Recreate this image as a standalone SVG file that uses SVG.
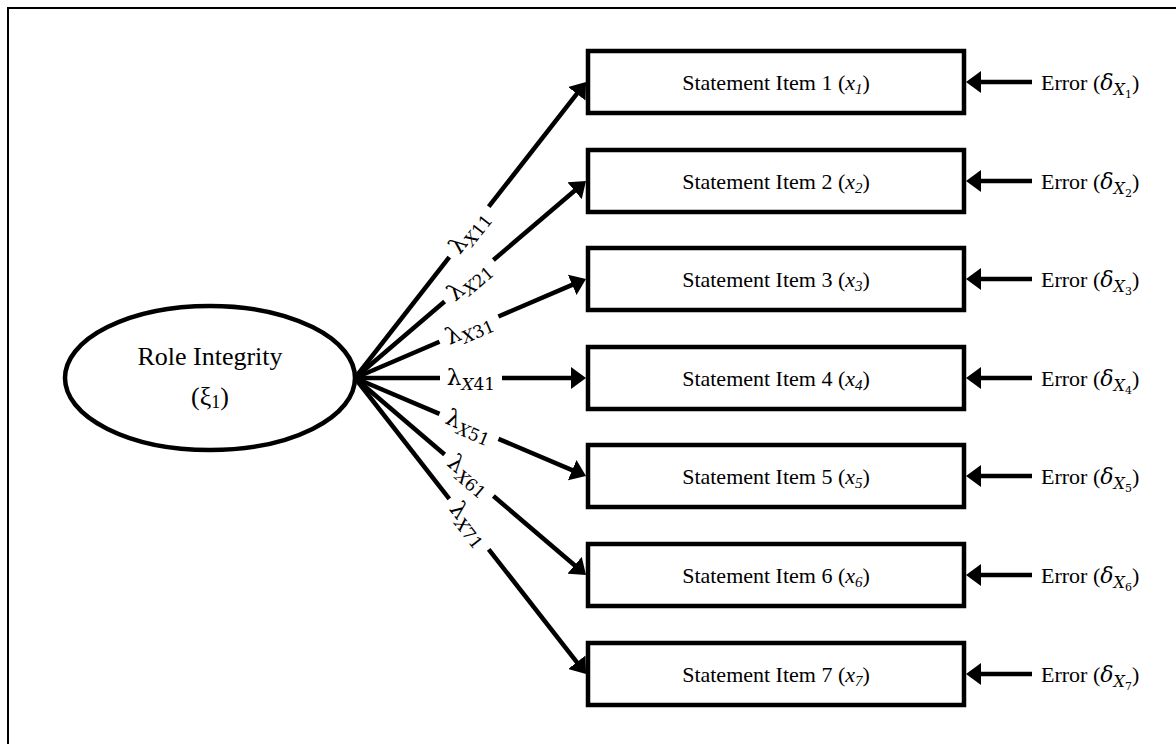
<svg xmlns="http://www.w3.org/2000/svg" width="1176" height="744" viewBox="0 0 1176 744">
<defs>
<style>
.frame{fill:none;stroke:#000;stroke-width:2}
.box{fill:#fff;stroke:#000;stroke-width:4.5}
.ell{fill:#fff;stroke:#000;stroke-width:4.5}
.ln{fill:none;stroke:#000;stroke-width:4.5}
.arr{fill:none;stroke:#000;stroke-width:4.5;marker-end:url(#ah)}
.t{font-family:"Liberation Serif","Times New Roman",serif;font-size:22px;fill:#000}
.lt{font-family:"Liberation Serif","Times New Roman",serif;font-size:26px;fill:#000}
.lam{font-family:"DejaVu Serif","Liberation Serif",serif;font-size:23px;fill:#000}
.sub{font-size:17px}
.it{font-style:italic}
.m{font-family:"DejaVu Serif","Liberation Serif",serif}
</style>
<marker id="ah" markerUnits="userSpaceOnUse" viewBox="0 0 15 22" markerWidth="15" markerHeight="22" refX="5" refY="11" orient="auto">
<path d="M0,0 L15,11 L0,22 z" fill="#000"/>
</marker>
</defs>
<rect width="1176" height="744" fill="#fff"/>
<rect class="frame" x="8" y="8" width="1200" height="800"/>

<g id="connectors">
<line class="ln" x1="355" y1="378" x2="449.3" y2="257.1"/>
<line class="arr" x1="488.7" y1="206.7" x2="579.9" y2="89.9"/>
<line class="ln" x1="355" y1="378" x2="444.6" y2="301.5"/>
<line class="arr" x1="493.4" y1="260" x2="578.4" y2="187.5"/>
<line class="ln" x1="355" y1="378" x2="439.5" y2="341.8"/>
<line class="arr" x1="498.4" y1="316.5" x2="576.8" y2="282.9"/>
<line class="ln" x1="355" y1="378" x2="440" y2="378"/>
<line class="arr" x1="502" y1="378" x2="576" y2="378"/>
<line class="ln" x1="355" y1="378" x2="439.5" y2="413.9"/>
<line class="arr" x1="498.5" y1="438.9" x2="576.8" y2="472.1"/>
<line class="ln" x1="355" y1="378" x2="444.6" y2="454.5"/>
<line class="arr" x1="493.4" y1="496" x2="578.4" y2="568.5"/>
<line class="ln" x1="355" y1="378" x2="449.3" y2="498.9"/>
<line class="arr" x1="488.7" y1="549.3" x2="579.9" y2="666.1"/>
<line class="arr" x1="1032" y1="82" x2="976" y2="82"/>
<line class="arr" x1="1032" y1="181" x2="976" y2="181"/>
<line class="arr" x1="1032" y1="279" x2="976" y2="279"/>
<line class="arr" x1="1032" y1="378" x2="976" y2="378"/>
<line class="arr" x1="1032" y1="476" x2="976" y2="476"/>
<line class="arr" x1="1032" y1="575" x2="976" y2="575"/>
<line class="arr" x1="1032" y1="674" x2="976" y2="674"/>
<text class="lam" transform="translate(469,232) rotate(-52)" text-anchor="middle" y="7">λ<tspan class="sub it" dy="5">X</tspan><tspan class="sub">11</tspan></text>
<text class="lam" transform="translate(469,281) rotate(-40.5)" text-anchor="middle" y="7">λ<tspan class="sub it" dy="5">X</tspan><tspan class="sub">21</tspan></text>
<text class="lam" transform="translate(469,329) rotate(-23.2)" text-anchor="middle" y="7">λ<tspan class="sub it" dy="5">X</tspan><tspan class="sub">31</tspan></text>
<text class="lam" transform="translate(471,378)" text-anchor="middle" y="7">λ<tspan class="sub it" dy="5">X</tspan><tspan class="sub">41</tspan></text>
<text class="lam" transform="translate(469,426) rotate(23)" text-anchor="middle" y="7">λ<tspan class="sub it" dy="5">X</tspan><tspan class="sub">51</tspan></text>
<text class="lam" transform="translate(469,475) rotate(40.5)" text-anchor="middle" y="7">λ<tspan class="sub it" dy="5">X</tspan><tspan class="sub">61</tspan></text>
<text class="lam" transform="translate(469,524) rotate(52)" text-anchor="middle" y="7">λ<tspan class="sub it" dy="5">X</tspan><tspan class="sub">71</tspan></text>
</g>

<g id="latent">
<ellipse class="ell" cx="210" cy="378" rx="145" ry="72"/>
<text class="lt" x="210" y="365" text-anchor="middle">Role Integrity</text>
<text class="lt" x="210" y="405" text-anchor="middle">(ξ<tspan font-size="18" dy="3">1</tspan><tspan dy="-3">)</tspan></text>
</g>

<g id="item1"><rect class="box" x="588" y="51" width="376" height="62"/><text class="t" x="776" y="90" text-anchor="middle">Statement Item 1 (<tspan class="it">x</tspan><tspan class="it" font-size="15" dy="4">1</tspan><tspan dy="-4">)</tspan></text></g>
<g id="item2"><rect class="box" x="588" y="150" width="376" height="62"/><text class="t" x="776" y="189" text-anchor="middle">Statement Item 2 (<tspan class="it">x</tspan><tspan class="it" font-size="15" dy="4">2</tspan><tspan dy="-4">)</tspan></text></g>
<g id="item3"><rect class="box" x="588" y="248" width="376" height="62"/><text class="t" x="776" y="287" text-anchor="middle">Statement Item 3 (<tspan class="it">x</tspan><tspan class="it" font-size="15" dy="4">3</tspan><tspan dy="-4">)</tspan></text></g>
<g id="item4"><rect class="box" x="588" y="347" width="376" height="62"/><text class="t" x="776" y="386" text-anchor="middle">Statement Item 4 (<tspan class="it">x</tspan><tspan class="it" font-size="15" dy="4">4</tspan><tspan dy="-4">)</tspan></text></g>
<g id="item5"><rect class="box" x="588" y="445" width="376" height="62"/><text class="t" x="776" y="484" text-anchor="middle">Statement Item 5 (<tspan class="it">x</tspan><tspan class="it" font-size="15" dy="4">5</tspan><tspan dy="-4">)</tspan></text></g>
<g id="item6"><rect class="box" x="588" y="544" width="376" height="62"/><text class="t" x="776" y="583" text-anchor="middle">Statement Item 6 (<tspan class="it">x</tspan><tspan class="it" font-size="15" dy="4">6</tspan><tspan dy="-4">)</tspan></text></g>
<g id="item7"><rect class="box" x="588" y="643" width="376" height="62"/><text class="t" x="776" y="682" text-anchor="middle">Statement Item 7 (<tspan class="it">x</tspan><tspan class="it" font-size="15" dy="4">7</tspan><tspan dy="-4">)</tspan></text></g>

<g id="error1"><text class="t" x="1041" y="90">Error (<tspan class="m it">δ</tspan><tspan class="m it" font-size="16" dy="5">X</tspan><tspan class="m" font-size="11" dy="3">1</tspan><tspan dy="-8">)</tspan></text></g>
<g id="error2"><text class="t" x="1041" y="189">Error (<tspan class="m it">δ</tspan><tspan class="m it" font-size="16" dy="5">X</tspan><tspan class="m" font-size="11" dy="3">2</tspan><tspan dy="-8">)</tspan></text></g>
<g id="error3"><text class="t" x="1041" y="287">Error (<tspan class="m it">δ</tspan><tspan class="m it" font-size="16" dy="5">X</tspan><tspan class="m" font-size="11" dy="3">3</tspan><tspan dy="-8">)</tspan></text></g>
<g id="error4"><text class="t" x="1041" y="386">Error (<tspan class="m it">δ</tspan><tspan class="m it" font-size="16" dy="5">X</tspan><tspan class="m" font-size="11" dy="3">4</tspan><tspan dy="-8">)</tspan></text></g>
<g id="error5"><text class="t" x="1041" y="484">Error (<tspan class="m it">δ</tspan><tspan class="m it" font-size="16" dy="5">X</tspan><tspan class="m" font-size="11" dy="3">5</tspan><tspan dy="-8">)</tspan></text></g>
<g id="error6"><text class="t" x="1041" y="583">Error (<tspan class="m it">δ</tspan><tspan class="m it" font-size="16" dy="5">X</tspan><tspan class="m" font-size="11" dy="3">6</tspan><tspan dy="-8">)</tspan></text></g>
<g id="error7"><text class="t" x="1041" y="682">Error (<tspan class="m it">δ</tspan><tspan class="m it" font-size="16" dy="5">X</tspan><tspan class="m" font-size="11" dy="3">7</tspan><tspan dy="-8">)</tspan></text></g>
</svg>
